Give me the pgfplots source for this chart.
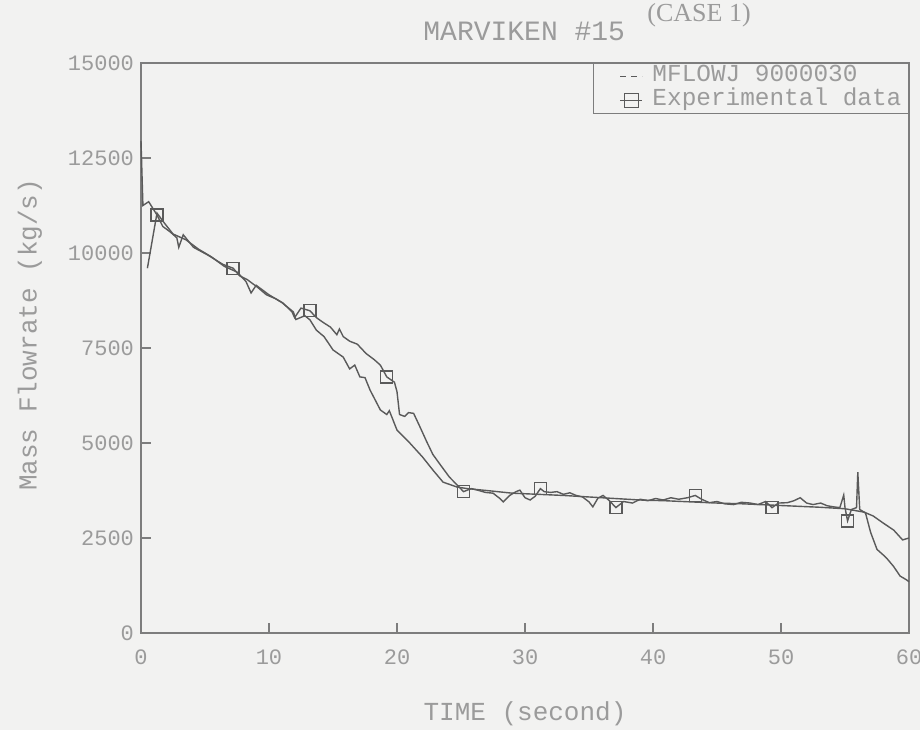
\documentclass[border=0pt]{standalone}
\usepackage{fontspec}
\setmainfont{Liberation Mono}
\newfontfamily\casefont{Liberation Serif}
\usepackage{pgfplots}
\usepackage{pgfplotstable}
\pgfplotsset{compat=1.18}

\definecolor{paper}{RGB}{242,242,241}
\definecolor{ink}{RGB}{90,90,90}
\definecolor{frame}{RGB}{125,125,125}
\definecolor{txt}{RGB}{155,155,155}

% RELAP5 junction mass flow (MFLOWJ 9000030)
\pgfplotstableread{
t y
0.5 9600
1.25 11050
1.8 10800
2.5 10500
3.5 10350
4.5 10100
5.5 9900
6.5 9650
7.5 9500
8.2 9250
8.6 8950
9.0 9150
10.0 8900
11.0 8700
11.9 8450
12.1 8250
12.8 8350
13.2 8240
13.7 7970
14.3 7800
15.0 7450
15.8 7260
16.3 6950
16.7 7050
17.1 6740
17.5 6720
17.9 6390
18.7 5870
19.2 5750
19.4 5850
20.0 5340
21.0 5000
22.0 4630
22.8 4290
23.6 3970
24.7 3840
25.5 3800
27.0 3750
29.0 3680
31.0 3650
33.0 3620
35.0 3580
37.0 3540
39.0 3500
41.0 3480
43.0 3450
45.0 3420
47.0 3400
49.0 3370
51.0 3340
53.0 3310
55.0 3270
56.5 3180
57.2 3080
58.0 2890
58.8 2710
59.5 2450
60.0 2500
}\simdata

% Marviken test 15 measured discharge flow
\pgfplotstableread{
t y
0 12950
0.15 11250
0.6 11350
1.25 11000
1.7 10700
2.3 10550
2.8 10400
2.95 10150
3.3 10480
4.1 10150
5.2 9950
6.4 9700
7.2 9600
7.7 9400
8.3 9300
9.1 9100
9.8 8900
10.5 8800
11.1 8680
11.8 8450
12.0 8300
12.5 8550
13.2 8480
13.7 8300
14.2 8180
14.8 8050
15.3 7850
15.5 8000
15.8 7800
16.3 7680
16.9 7600
17.6 7350
18.2 7200
18.7 7050
19.2 6740
19.8 6600
20.0 6350
20.2 5750
20.6 5700
20.9 5800
21.3 5780
21.8 5420
22.3 5050
22.8 4700
23.4 4420
24.1 4100
24.6 3930
25.2 3720
25.8 3800
26.3 3760
26.9 3700
27.5 3680
28.0 3550
28.3 3450
28.8 3620
29.3 3720
29.6 3760
30.0 3560
30.4 3500
30.8 3600
31.2 3800
31.5 3720
32.0 3700
32.5 3720
33.0 3650
33.5 3690
34.0 3620
34.5 3580
35.0 3450
35.3 3320
35.7 3550
36.1 3620
36.6 3480
37.1 3300
37.7 3460
38.4 3420
39.0 3520
39.6 3480
40.2 3540
40.8 3500
41.4 3560
42.0 3520
42.7 3560
43.3 3620
43.8 3520
44.4 3430
45.0 3460
45.6 3400
46.3 3380
46.9 3440
47.6 3420
48.2 3380
48.8 3460
49.3 3300
49.8 3420
50.5 3430
51.0 3480
51.5 3560
52.0 3420
52.5 3380
53.1 3420
53.6 3350
54.1 3320
54.6 3300
54.9 3630
55.0 3300
55.2 2950
55.5 3250
55.9 3300
56.0 4230
56.15 3250
56.6 3160
57.0 2650
57.5 2200
58.0 2050
58.3 1950
58.8 1750
59.3 1500
59.8 1400
60.0 1350
}\expdata

% every sixth second of the measured record carries a symbol
\pgfplotstableread{
t y
1.25 11000
7.2 9600
13.2 8480
19.2 6740
25.2 3720
31.2 3800
37.1 3300
43.3 3620
49.3 3300
55.2 2950
}\expmarks

\begin{document}
\begin{tikzpicture}
\useasboundingbox[fill=paper] (-70.5pt,-48.5pt) rectangle (389.5pt,316.5pt);
\begin{axis}[
  at={(0pt,0pt)}, anchor=south west,
  scale only axis, width=384pt, height=285pt,
  xmin=0, xmax=60, ymin=0, ymax=15000,
  xtick={0,10,...,60}, ytick={0,2500,...,15000},
  scaled ticks=false,
  /pgf/number format/assume math mode=true,
  /pgf/number format/1000 sep={},
  tick align=inside, xtick pos=left, ytick pos=left,
  major tick length=5pt,
  axis line style={frame, line width=0.6pt},
  tick style={frame, line width=0.6pt},
  ticklabel style={font=\fontsize{11}{11}\selectfont, text=txt},
  xticklabel style={yshift=-5pt},
  clip=false,
  legend style={at={(1,1)}, anchor=north east, draw=frame, line width=0.6pt,
    fill=none, inner xsep=3.5pt, inner ysep=2.5pt, row sep=4pt,
    font=\fontsize{12.2}{12.2}\selectfont, text=txt,
    nodes={inner sep=0pt, text height=6.5pt, text depth=1.5pt},
    /tikz/every even column/.style={column sep=0pt}},
  legend cell align=left,
]
\addplot[ink, line width=0.7pt,
  legend image code/.code={\path[draw=none] (-10pt,0pt) -- (16pt,0pt);
    \draw[ink, line width=0.7pt, dash pattern=on 3pt off 2.5pt] (0pt,0pt) -- (11pt,0pt);}]
  table[x=t, y=y] {\simdata};
\addlegendentry{MFLOWJ 9000030}
\addplot[ink, line width=0.7pt, forget plot] table[x=t, y=y] {\expdata};
\addplot[only marks, mark=square, mark size=3pt, ink, mark options={line width=0.7pt},
  legend image code/.code={\path[draw=none] (-10pt,0pt) -- (16pt,0pt);
    \draw[ink, line width=0.7pt] (0pt,0pt) -- (11pt,0pt);
    \draw[ink, line width=0.7pt] (2pt,-3.5pt) rectangle (9pt,3.5pt);}]
  table[x=t, y=y] {\expmarks};
\addlegendentry{Experimental data}

\node[font=\fontsize{14}{14}\selectfont, text=txt] at (axis description cs:0.499,1.056) {MARVIKEN \#15};
\node[font=\casefont\fontsize{13}{13}\selectfont, text=txt] at (axis description cs:0.7266,1.084) {(CASE 1)};
\node[font=\fontsize{13}{13}\selectfont, text=txt] at (axis description cs:0.5,-0.142) {TIME (second)};
\node[font=\fontsize{13}{13}\selectfont, text=txt, rotate=90] at (axis description cs:-0.1445,0.523) {Mass Flowrate (kg/s)};
\end{axis}
\end{tikzpicture}
\end{document}
